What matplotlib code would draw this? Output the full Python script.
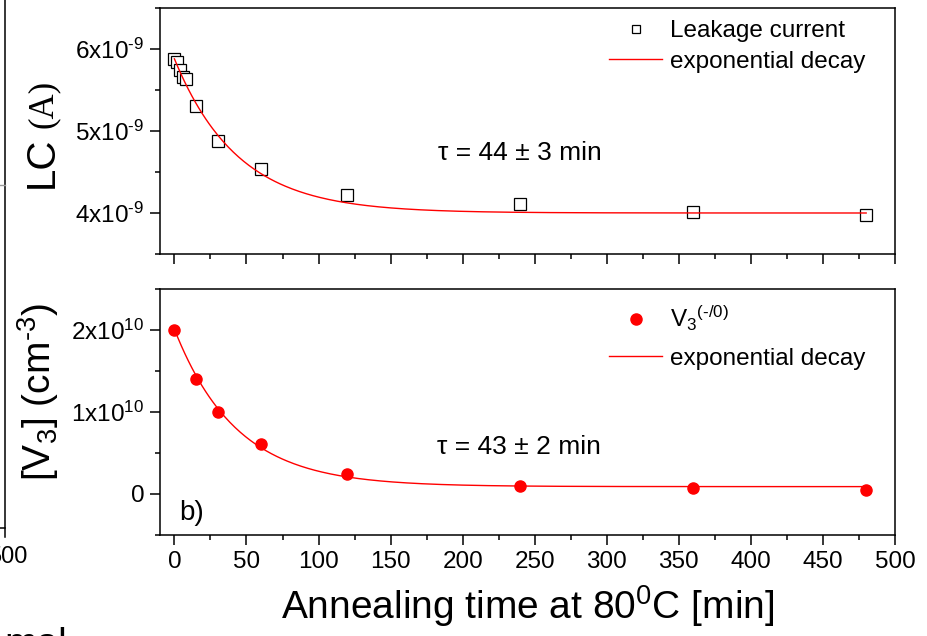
import numpy as np
import matplotlib.pyplot as plt
from matplotlib.lines import Line2D
from matplotlib.ticker import MultipleLocator

plt.rcParams['font.family'] = ['Liberation Sans', 'DejaVu Sans']
plt.rcParams['mathtext.fontset'] = 'custom'
plt.rcParams['mathtext.rm'] = 'Liberation Sans'
plt.rcParams['mathtext.it'] = 'Liberation Sans:italic'
plt.rcParams['mathtext.bf'] = 'Liberation Sans:bold'

# ---- data ----
# leakage current
lc_time = [0, 2, 4, 6, 8, 15, 30, 60, 120, 240, 360, 480]
lc_value = [5.88e-9, 5.845e-9, 5.745e-9, 5.655e-9, 5.635e-9, 5.305e-9,
            4.875e-9, 4.535e-9, 4.22e-9, 4.11e-9, 4.01e-9, 3.975e-9]
lc_y0, lc_amp, lc_tau = 4.0e-9, 1.88e-9, 44

# V3 concentration
v3_time = [0, 15, 30, 60, 120, 240, 360, 480]
v3_value = [2.0e10, 1.40e10, 1.005e10, 0.605e10, 0.245e10, 0.098e10, 0.073e10, 0.05e10]
v3_y0, v3_amp, v3_tau = 0.09e10, 1.92e10, 43

x_ticks = [0, 50, 100, 150, 200, 250, 300, 350, 400, 450, 500]
lc_ticks = [4e-9, 5e-9, 6e-9]
lc_ticklabels = [r'4x10$^{\text{-9}}$', r'5x10$^{\text{-9}}$', r'6x10$^{\text{-9}}$']
v3_ticks = [0, 1e10, 2e10]
v3_ticklabels = ['0', '1x10$^{10}$', '2x10$^{10}$']

W, H = 928, 636


def rect(left, top, right, bottom):
    return [left / W, 1 - bottom / H, (right - left) / W, (bottom - top) / H]


fig = plt.figure(figsize=(W / 100, H / 100), dpi=100)
ax1 = fig.add_axes(rect(160, 8, 895, 254))
ax2 = fig.add_axes(rect(160, 289, 895, 535))

for ax in (ax1, ax2):
    ax.set_xlim(-10, 500)
    ax.set_xticks(x_ticks)
    ax.xaxis.set_minor_locator(MultipleLocator(25))
    ax.tick_params(which='major', direction='out', length=7.2, width=1.1,
                   labelsize=17.5, pad=4)
    ax.tick_params(which='minor', direction='out', length=3.6, width=1.1)
    for s in ax.spines.values():
        s.set_linewidth(1.1)

# top panel
t_fit = np.linspace(0, 480, 400)
ax1.plot(lc_time, lc_value, ls='none', marker='s', ms=8, mfc='white',
         mec='black', mew=0.9, label='Leakage current')
ax1.plot(t_fit, lc_y0 + lc_amp * np.exp(-t_fit / lc_tau), color='red', lw=1,
         label='exponential decay')
ax1.set_ylim(3.5e-9, 6.5e-9)
ax1.set_yticks(lc_ticks)
ax1.set_yticklabels(lc_ticklabels)
ax1.yaxis.set_minor_locator(MultipleLocator(0.5e-9))
ax1.tick_params(labelbottom=False)
ax1.legend(loc='upper left', bbox_to_anchor=((609 - 160) / 735, (254 - 20) / 246),
           frameon=False, fontsize=17.5, handlelength=2.2, handletextpad=0.3,
           borderpad=0, borderaxespad=0, labelspacing=0.35, markerscale=0.75)
ax1.text((438 - 160) / 735, (254 - 153) / 246, 'τ = 44 ± 3 min', fontsize=19,
         transform=ax1.transAxes, va='center', ha='left')

# bottom panel
ax2.plot(v3_time, v3_value, ls='none', marker='o', ms=8, color='red',
         label=r'V$_3$$^{\text{(-/0)}}$')
ax2.plot(t_fit, v3_y0 + v3_amp * np.exp(-t_fit / v3_tau), color='red', lw=1,
         label='exponential decay')
ax2.set_ylim(-0.5e10, 2.5e10)
ax2.set_yticks(v3_ticks)
ax2.set_yticklabels(v3_ticklabels)
ax2.yaxis.set_minor_locator(MultipleLocator(0.5e10))
ax2.legend(loc='upper left', bbox_to_anchor=((609 - 160) / 735, (535 - 304) / 246),
           frameon=False, fontsize=17.5, handlelength=2.2, handletextpad=0.3,
           borderpad=0, borderaxespad=0, labelspacing=0.6)
ax2.text((437 - 160) / 735, (535 - 447) / 246, 'τ = 43 ± 2 min', fontsize=19,
         transform=ax2.transAxes, va='center', ha='left')
ax2.text((179 - 160) / 735, (535 - 513) / 246, 'b)', fontsize=20,
         transform=ax2.transAxes, va='center', ha='left')
ax2.set_xlabel('Annealing time at 80$^0$C [min]', fontsize=28, labelpad=8)

# y labels
fig.text(42 / W, 1 - 188 / H, 'LC', fontsize=29, rotation=90, ha='center', va='bottom')
fig.text(43 / W, 1 - 128 / H, '(A)', fontsize=25, rotation=90, ha='center',
         va='bottom', family='Liberation Serif')
fig.text(38 / W, 1 - 392 / H, r'[V$_3$] (cm$^{\text{-3}}$)', fontsize=28, rotation=90,
         ha='center', va='center')

# remains of the neighbouring panel at the left edge
fig.add_artist(Line2D([5 / W, 5 / W], [1, 1 - 537 / H], color='black', lw=1.1))
fig.add_artist(Line2D([0, 5 / W], [1 - 528 / H, 1 - 528 / H], color='black', lw=1.1))
fig.add_artist(Line2D([0, 5 / W], [1 - 185 / H, 1 - 185 / H], color='0.6', lw=1))
fig.text(8 / W, 1 - 557 / H, '500', fontsize=17, ha='center', va='center')
fig.text(4 / W, 1 - 655 / H, 'mal', fontsize=28, ha='left', va='baseline')

fig.savefig('out.png', dpi=100)
